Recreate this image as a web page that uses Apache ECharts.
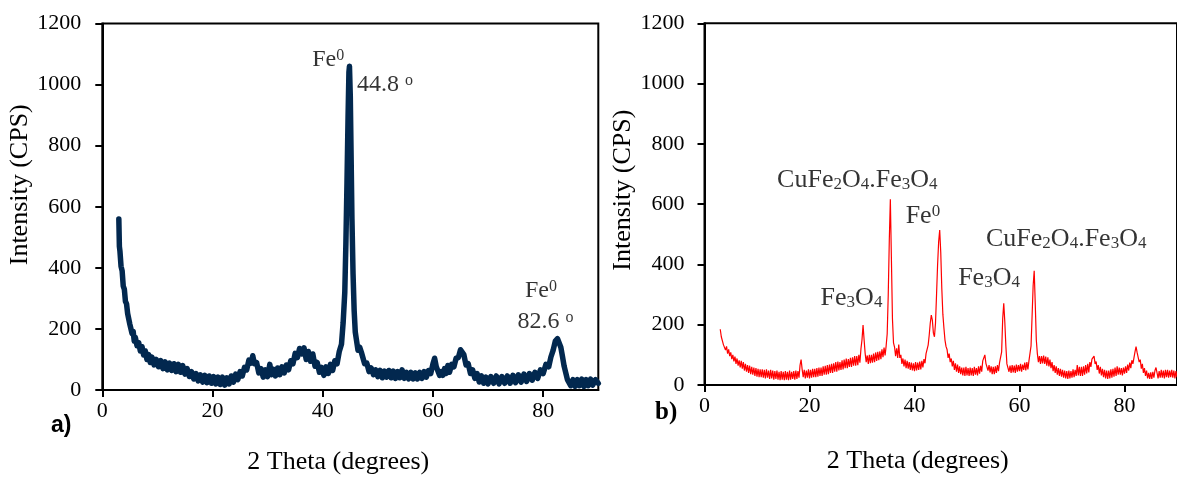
<!DOCTYPE html>
<html>
<head>
<meta charset="utf-8">
<script src="https://cdn.jsdelivr.net/npm/echarts@6/dist/echarts.min.js"></script>
<style>
html,body{margin:0;padding:0;background:#fff;}
#chart{width:1177px;height:480px;}
</style>
</head>
<body>
<div id="chart"></div>
<script>
// ---------- DATA ----------
const xTicks = [0, 20, 40, 60, 80];
const yTicks = [0, 200, 400, 600, 800, 1000, 1200];

// Panel a) : [2theta, counts]
const seriesA = [[3.0,560],[3.1,470],[3.2,455],[3.4,405],[3.6,390],[3.8,340],[4.0,330],[4.2,290],[4.4,282],[4.6,250],[4.8,250],[5.0,215],[5.2,220],[5.4,185],[5.6,192],[5.8,160],[6.0,172],[6.3,145],[6.6,155],[6.9,128],[7.2,142],[7.5,115],[7.8,128],[8.1,100],[8.4,116],[8.7,90],[9.0,108],[9.4,82],[9.8,100],[10.2,76],[10.6,96],[11.0,70],[11.4,92],[11.8,66],[12.2,88],[12.6,64],[13.0,86],[13.4,60],[13.8,84],[14.2,58],[14.6,80],[15.0,52],[15.4,70],[15.8,44],[16.2,60],[16.6,36],[17.0,54],[17.4,30],[17.8,50],[18.2,26],[18.6,48],[19.0,24],[19.4,46],[19.8,22],[20.2,44],[20.6,20],[21.0,42],[21.4,18],[21.8,42],[22.2,16],[22.6,40],[23.0,20],[23.4,46],[23.8,26],[24.2,52],[24.6,34],[25.0,60],[25.4,46],[25.8,74],[26.2,66],[26.6,98],[27.0,88],[27.3,112],[27.6,86],[28.0,90],[28.4,56],[28.8,70],[29.2,42],[29.6,66],[30.0,44],[30.4,84],[30.7,50],[31.0,68],[31.4,46],[31.8,72],[32.2,50],[32.6,76],[33.0,56],[33.4,82],[33.8,66],[34.2,96],[34.6,86],[35.0,120],[35.4,106],[35.8,136],[36.2,118],[36.6,138],[37.0,100],[37.4,126],[37.8,94],[38.2,118],[38.6,78],[39.0,90],[39.4,58],[39.8,74],[40.2,48],[40.6,76],[41.0,54],[41.4,84],[41.8,64],[42.2,96],[42.6,86],[43.0,126],[43.4,150],[43.7,220],[44.0,320],[44.2,480],[44.4,680],[44.6,900],[44.75,1040],[44.85,1060],[45.0,960],[45.15,760],[45.3,560],[45.5,380],[45.7,260],[45.9,190],[46.1,166],[46.4,130],[46.7,140],[47.0,124],[47.3,130],[47.6,86],[48.0,88],[48.4,60],[48.8,72],[49.2,50],[49.6,66],[50.0,44],[50.4,64],[50.8,40],[51.2,62],[51.6,42],[52.0,64],[52.4,40],[52.8,62],[53.2,38],[53.6,60],[54.0,40],[54.4,66],[54.8,38],[55.2,58],[55.6,36],[56.0,58],[56.4,36],[56.8,56],[57.2,36],[57.6,58],[58.0,38],[58.4,60],[58.8,42],[59.2,64],[59.6,54],[60.0,86],[60.3,104],[60.6,76],[60.9,74],[61.2,48],[61.5,60],[61.8,48],[62.1,70],[62.4,54],[62.7,80],[63.0,58],[63.4,84],[63.8,76],[64.2,104],[64.6,106],[65.0,132],[65.3,126],[65.6,116],[66.0,82],[66.4,86],[66.8,54],[67.2,66],[67.6,38],[68.0,54],[68.4,26],[68.8,46],[69.2,22],[69.6,42],[70.0,20],[70.5,44],[71.0,22],[71.5,46],[72.0,20],[72.5,44],[73.0,22],[73.5,46],[74.0,22],[74.5,48],[75.0,24],[75.5,50],[76.0,26],[76.5,52],[77.0,28],[77.5,54],[78.0,32],[78.5,58],[79.0,38],[79.5,66],[80.0,54],[80.5,84],[81.0,76],[81.4,108],[81.8,130],[82.2,160],[82.6,168],[82.9,164],[83.2,140],[83.5,110],[83.8,78],[84.1,56],[84.4,34],[84.7,36],[85.0,14],[85.4,34],[85.8,12],[86.2,34],[86.6,14],[87.0,36],[87.4,12],[87.8,34],[88.2,14],[88.6,36],[89.0,16],[89.5,34],[90.0,22]];

// Panel b) : counts sampled every 0.2 degree starting at 3.0 degrees
const thetaStartB = 3.0;
const thetaStepB = 0.2;
const countsB = [
185,160,158,134,140,116,128,104,118,96,
108,86,100,78,94,70,88,64,82,58,
80,54,76,48,70,44,66,40,64,36,
60,34,58,30,56,28,54,26,52,26,
52,24,50,22,52,24,48,20,50,22,
48,18,46,20,48,18,44,16,46,18,
44,16,46,18,44,16,48,18,44,20,
46,18,48,20,46,24,66,84,52,26,
50,22,48,24,52,22,50,24,54,26,
54,26,56,28,58,30,58,30,62,34,
64,34,66,36,68,40,70,40,72,44,
76,44,78,48,76,50,82,52,84,56,
88,56,86,60,90,60,92,64,96,64,
96,66,100,74,120,150,199,150,105,76,
98,70,100,72,100,74,104,76,108,80,
110,82,112,86,118,92,124,98,130,170,
300,480,616,420,220,140,126,96,122,90,
134,90,100,70,88,62,84,56,80,54,
76,50,74,48,72,46,76,48,74,50,
78,52,80,58,86,72,104,110,132,165,
205,232,215,172,160,205,300,400,475,514,
440,320,235,190,150,128,118,90,104,76,
88,62,80,50,72,44,68,40,62,36,
58,32,58,30,60,32,56,30,58,32,
56,30,60,34,56,32,62,38,64,44,
80,86,100,72,74,48,66,42,62,36,
60,36,62,40,66,46,74,80,110,220,
271,210,130,70,76,44,64,40,66,42,
64,40,68,44,66,46,70,44,68,50,
74,48,76,52,80,76,130,230,330,379,
270,150,104,76,96,70,96,72,98,70,
94,64,92,62,84,56,76,46,66,40,
62,34,56,30,54,28,50,24,48,22,
46,20,48,22,46,24,52,26,50,30,
66,32,60,30,60,30,62,34,66,38,
70,42,76,60,86,90,96,70,78,50,
66,38,60,32,54,26,50,22,48,20,
48,22,52,24,54,28,58,30,62,34,
58,34,56,32,58,38,62,40,68,48,
74,56,82,70,90,110,127,108,104,76,
84,54,70,40,56,30,48,22,40,20,
42,20,44,24,48,58,40,22,46,24,
50,24,48,22,50,26,50,24,48,26,
50,24,48,22,46,26
];

// Peak annotations: [2theta, counts, text]
const notesA = [
  [41.0, 1082, 'Fe{sup|0}'],
  [51.3, 1000, '44.8 {sup|o}'],
  [79.6, 325, 'Fe{sup|0}'],
  [80.4, 224, '82.6 {sup|o}']
];
const notesB = [
  [29.1, 679, 'CuFe{sub|2}O{sub|4}.Fe{sub|3}O{sub|4}'],
  [41.6, 559, 'Fe{sup|0}'],
  [68.9, 484, 'CuFe{sub|2}O{sub|4}.Fe{sub|3}O{sub|4}'],
  [54.2, 355, 'Fe{sub|3}O{sub|4}'],
  [28.0, 289, 'Fe{sub|3}O{sub|4}']
];
const panelTags = ['a)', 'b)'];
const xTitle = '2 Theta (degrees)';
const yTitle = 'Intensity (CPS)';

// ---------- CHART ----------
const dataB = countsB.map((v, i) => [+(thetaStartB + i * thetaStepB).toFixed(2), v]);
const SERIF = 'Liberation Serif, Times New Roman, serif';

function xAxisCfg(gridIndex, padRight, gap) {
  return {
    gridIndex, type: 'value', min: 0, max: 90, interval: 20,
    name: xTitle, nameLocation: 'middle', nameGap: gap,
    nameTextStyle: {fontFamily: SERIF, fontSize: 26, color: '#000', padding: [0, padRight, 0, 0]},
    axisLine: {show: true, onZero: false, lineStyle: {color: '#000', width: 2}},
    axisTick: {show: true, inside: false, length: 7, lineStyle: {color: '#000', width: 2}, customValues: xTicks},
    axisLabel: {fontFamily: SERIF, fontSize: 22, color: '#000', margin: 10, customValues: xTicks},
    splitLine: {show: false}
  };
}
function yAxisCfg(gridIndex, padLeft, margin) {
  return {
    gridIndex, type: 'value', min: 0, max: 1200, interval: 200,
    name: yTitle, nameLocation: 'middle', nameGap: 66,
    nameTextStyle: {fontFamily: SERIF, fontSize: 26, color: '#000', padding: [0, 0, 0, padLeft]},
    axisLine: {show: true, lineStyle: {color: '#000', width: 2}},
    axisTick: {show: true, inside: false, length: 7, lineStyle: {color: '#000', width: 2}, customValues: yTicks},
    axisLabel: {fontFamily: SERIF, fontSize: 22, color: '#000', margin: margin, customValues: yTicks,
                formatter: v => String(v)},
    splitLine: {show: false}
  };
}
function noteSeries(idx, notes, size) {
  return {
    type: 'scatter', xAxisIndex: idx, yAxisIndex: idx, symbolSize: 0, silent: true, z: 10,
    data: notes.map(n => ({value: [n[0], n[1]], text: n[2]})),
    label: {
      show: true, position: 'inside', color: '#000',
      fontFamily: SERIF, fontSize: size, lineHeight: size,
      formatter: p => p.data.text,
      rich: {
        sup: {fontFamily: SERIF, fontSize: Math.round(size * 0.66), verticalAlign: 'top', color: '#000'},
        sub: {fontFamily: SERIF, fontSize: Math.round(size * 0.66), verticalAlign: 'bottom', color: '#000'}
      }
    },
    emphasis: {disabled: true}
  };
}

const chart = echarts.init(document.getElementById('chart'), null, {renderer: 'canvas'});
chart.setOption({
  animation: false,
  backgroundColor: '#fff',
  grid: [
    {left: 102.3, top: 23.5, width: 496, height: 370.8, show: true, borderColor: '#000', borderWidth: 2, backgroundColor: 'transparent'},
    {left: 704.5, top: 23.3, width: 483.75, height: 361.7, show: true, borderColor: '#000', borderWidth: 2, backgroundColor: 'transparent'}
  ],
  xAxis: [xAxisCfg(0, 24, 59), xAxisCfg(1, 46, 63)],
  yAxis: [yAxisCfg(0, 44, 21), yAxisCfg(1, 28, 20)],
  series: [
    {type: 'line', xAxisIndex: 0, yAxisIndex: 0, data: seriesA, showSymbol: false, symbol: 'none',
     lineStyle: {color: '#02284f', width: 5.5, join: 'round', cap: 'round'}, silent: true, clip: true},
    {type: 'line', xAxisIndex: 1, yAxisIndex: 1, data: dataB, showSymbol: false, symbol: 'none',
     lineStyle: {color: '#ff0000', width: 1.2}, silent: true, clip: true},
    noteSeries(0, notesA, 24),
    noteSeries(1, notesB, 26)
  ],
  graphic: [
    {type: 'text', left: 51, top: 414, style: {text: panelTags[0], font: 'bold 23px Liberation Sans, Arial, sans-serif', fill: '#000'}},
    {type: 'text', left: 655, top: 400, style: {text: panelTags[1], font: 'bold 25px Liberation Serif, Times New Roman, serif', fill: '#000'}}
  ]
});
</script>
</body>
</html>
